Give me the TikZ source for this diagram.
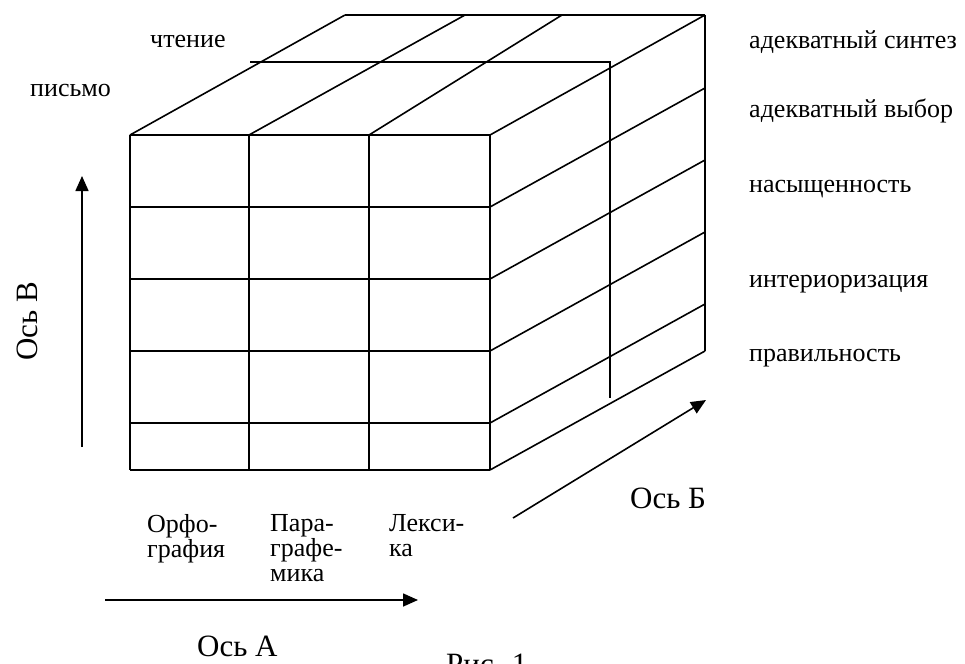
\documentclass[tikz,border=0pt]{standalone}
\usepackage{fontspec}
\setmainfont{Liberation Serif}
\usetikzlibrary{arrows.meta}
\begin{document}
\begin{tikzpicture}[x=1pt,y=-1pt,
  edge/.style={line width=1.6pt,line join=miter},
  axis/.style={line width=1.6pt,-{Triangle[length=15pt,width=13pt]}},
  small/.style={font=\fontsize{26}{25}\selectfont,inner sep=0pt,align=left},
  big/.style={font=\fontsize{31}{32}\selectfont,inner sep=0pt}]
\useasboundingbox (0,0) rectangle (965,663);
\clip (0,0) rectangle (965,663);
% front grid
\foreach \x in {130,249,369,490} \draw[edge] (\x,135) -- (\x,470);
\foreach \y in {135,207,279,351,423,470} \draw[edge] (130,\y) -- (490,\y);
% top face
\draw[edge] (130,135) -- (345,15);
\draw[edge] (249,135) -- (465,15);
\draw[edge] (369,135) -- (562,15);
\draw[edge] (490,135) -- (705,15);
\draw[edge] (345,15) -- (705,15);
% right face
\foreach \a/\b in {207/88,279/160,351/232,423/304,470/351} \draw[edge] (490,\a) -- (705,\b);
\draw[edge] (705,15) -- (705,351);
% inner layer lines
\draw[edge] (250,62) -- (610,62) -- (610,398);
% axes
\coordinate (a1) at (105,600); \coordinate (a2) at (418,600);
\coordinate (b1) at (513,518); \coordinate (b2) at (706,400);
\coordinate (c1) at (82,447);  \coordinate (c2) at (82,176);
\draw[axis] (a1) -- (a2);
\draw[axis] (b1) -- (b2);
\draw[axis] (c1) -- (c2);
% labels
\node[small,anchor=base west] (chten) at (150,48) {чтение};
\node[small,anchor=base west] (pism) at (30,97) {письмо};
\node[small,anchor=base west] (l1) at (749,49) {адекватный синтез};
\node[small,anchor=base west] (l2) at (749,118) {адекватный выбор};
\node[small,anchor=base west] (l3) at (749,193) {насыщенность};
\node[small,anchor=base west] (l4) at (749,287) {интериоризация};
\node[small,anchor=base west] (l5) at (749,361) {правильность};
\node[small,anchor=north west] (orf) at (147,514) {Орфо-\\графия};
\node[small,anchor=north west] (par) at (270,514) {Пара-\\графе-\\мика};
\node[small,anchor=north west] (lex) at (389,514) {Лекси-\\ка};
\node[big,anchor=base west] (osA) at (197,656) {Ось А};
\node[big,anchor=base west] (ris) at (446,674) {Рис. 1};
\node[big,anchor=base west] (osB) at (630,508) {Ось Б};
\node[big,anchor=base west,rotate=90] (osV) at (37,361) {Ось В};
\end{tikzpicture}
\end{document}
